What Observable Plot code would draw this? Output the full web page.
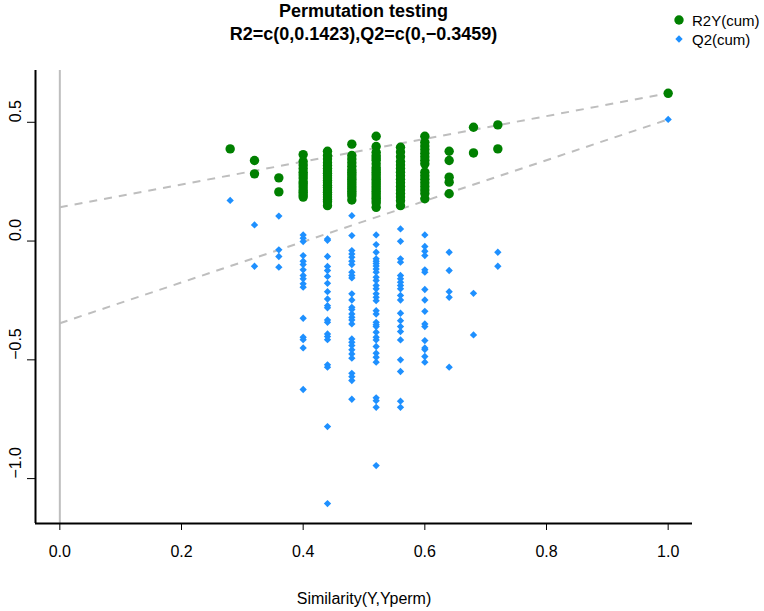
<!DOCTYPE html>
<html>
<head>
<meta charset="utf-8">
<script src="https://cdn.jsdelivr.net/npm/d3@7"></script>
<script src="https://cdn.jsdelivr.net/npm/@observablehq/plot@0.6"></script>
<style>
  body { margin: 0; background: #fff; }
  #wrap { position: relative; width: 764px; height: 611px; font-family: "Liberation Sans", Arial, Helvetica, sans-serif; color: #000; }
  #title { position: absolute; left: 0; top: 0; width: 727px; text-align: center; font-weight: bold; font-size: 18px; line-height: 22.5px; z-index: 2; }
  #legend { position: absolute; left: 0; top: 0; width: 764px; height: 60px; z-index: 2; pointer-events: none; }
  .lg { position: absolute; left: 692px; font-size: 15px; line-height: 15px; white-space: nowrap; }
  #plot { position: absolute; left: 0; top: 0; }
</style>
</head>
<body>
<div id="wrap">
  <div id="plot"></div>
  <div id="title">Permutation testing<br>R2=c(0,0.1423),Q2=c(0,−0.3459)</div>
  <div id="legend">
    <svg width="764" height="60" style="position:absolute;left:0;top:0">
      <circle cx="679" cy="20" r="4.7" fill="#008000"></circle>
      <path d="M679,35.3L682.7,39L679,42.7L675.3,39Z" fill="#1E90FF"></path>
    </svg>
    <div class="lg" style="top:13.3px">R2Y(cum)</div>
    <div class="lg" style="top:32.3px">Q2(cum)</div>
  </div>
</div>
<script>
// Similarity(Y,Yperm) levels
const simLevels = [0.28, 0.32, 0.36, 0.40, 0.44, 0.48, 0.52, 0.56, 0.60, 0.64, 0.68, 0.72, 1.0];

// R2Y(cum) values at each similarity level
const r2yByLevel = [
  [0.388],
  [0.339, 0.283],
  [0.266, 0.207],
  [0.364, 0.335, 0.32, 0.305, 0.29, 0.278, 0.265, 0.25, 0.24, 0.228, 0.215, 0.205, 0.195, 0.185],
  [0.378, 0.36, 0.345, 0.33, 0.318, 0.305, 0.295, 0.285, 0.275, 0.265, 0.255, 0.245, 0.235, 0.225, 0.215, 0.205, 0.195, 0.185, 0.175, 0.165, 0.149],
  [0.408, 0.36, 0.345, 0.33, 0.315, 0.3, 0.29, 0.28, 0.27, 0.26, 0.25, 0.24, 0.23, 0.22, 0.21, 0.2, 0.19, 0.173],
  [0.441, 0.398, 0.374, 0.36, 0.35, 0.34, 0.325, 0.31, 0.3, 0.29, 0.28, 0.27, 0.26, 0.25, 0.24, 0.23, 0.22, 0.21, 0.2, 0.19, 0.18, 0.17, 0.16, 0.142],
  [0.395, 0.375, 0.355, 0.335, 0.32, 0.305, 0.29, 0.275, 0.26, 0.245, 0.23, 0.215, 0.2, 0.185, 0.17, 0.149],
  [0.441, 0.416, 0.4, 0.385, 0.37, 0.355, 0.34, 0.325, 0.29, 0.275, 0.26, 0.245, 0.23, 0.215, 0.2, 0.178],
  [0.378, 0.339, 0.269, 0.248, 0.199],
  [0.479, 0.371],
  [0.489, 0.388],
  [0.622]
];

// Q2(cum) values at each similarity level
const q2ByLevel = [
  [0.171],
  [0.068, -0.106],
  [0.105, -0.037, -0.065, -0.110],
  [0.026, 0.012, -0.002, -0.061, -0.085, -0.099, -0.121, -0.145, -0.159, -0.180, -0.194, -0.325, -0.405, -0.415, -0.450, -0.625],
  [0.009, 0.003, -0.065, -0.107, -0.124, -0.149, -0.178, -0.213, -0.244, -0.272, -0.281, -0.332, -0.342, -0.391, -0.402, -0.415, -0.521, -0.531, -0.781, -1.105],
  [0.107, 0.023, -0.040, -0.054, -0.068, -0.085, -0.099, -0.131, -0.145, -0.155, -0.222, -0.248, -0.279, -0.288, -0.307, -0.321, -0.332, -0.349, -0.412, -0.426, -0.440, -0.458, -0.475, -0.493, -0.557, -0.571, -0.587, -0.666],
  [0.026, -0.015, -0.047, -0.075, -0.085, -0.095, -0.105, -0.118, -0.131, -0.152, -0.166, -0.187, -0.201, -0.222, -0.237, -0.251, -0.293, -0.307, -0.342, -0.352, -0.360, -0.384, -0.405, -0.416, -0.444, -0.472, -0.489, -0.510, -0.660, -0.672, -0.700, -0.945],
  [0.051, -0.001, -0.075, -0.089, -0.145, -0.159, -0.173, -0.187, -0.201, -0.229, -0.248, -0.304, -0.335, -0.360, -0.381, -0.416, -0.500, -0.549, -0.674, -0.700],
  [0.026, -0.023, -0.043, -0.061, -0.121, -0.131, -0.204, -0.248, -0.296, -0.349, -0.360, -0.419, -0.450, -0.457, -0.486, -0.510],
  [-0.047, -0.124, -0.213, -0.237, -0.531],
  [-0.220, -0.395],
  [-0.047, -0.106],
  [0.512]
];

// regression intercepts from the title
const r2Intercept = [0, 0.1423];
const q2Intercept = [0, -0.3459];

const xTicks = [0, 0.2, 0.4, 0.6, 0.8, 1.0];
const yTicks = [-1.0, -0.5, 0.0, 0.5];
const xDomain = [-0.04, 1.04];
const yDomain = [-1.189, 0.718];

const r2Data = simLevels.flatMap((s, i) => r2yByLevel[i].map(v => ({sim: s, val: v})));
const q2Data = simLevels.flatMap((s, i) => q2ByLevel[i].map(v => ({sim: s, val: v})));

const last = simLevels.length - 1;
const regLines = [
  {x1: r2Intercept[0], y1: r2Intercept[1], x2: simLevels[last], y2: r2yByLevel[last][0]},
  {x1: q2Intercept[0], y1: q2Intercept[1], x2: simLevels[last], y2: q2ByLevel[last][0]}
];

const fmt = d3.format(".1f");

const chart = Plot.plot({
  width: 764,
  height: 611,
  marginLeft: 35,
  marginRight: 72,
  marginTop: 70,
  marginBottom: 88,
  x: {domain: xDomain},
  y: {domain: yDomain},
  style: {fontFamily: "Liberation Sans, Arial, Helvetica, sans-serif", fontSize: "16px", background: "white", overflow: "visible"},
  marks: [
    Plot.ruleX([0], {stroke: "#bebebe", strokeWidth: 2}),
    Plot.link(regLines, {x1: "x1", y1: "y1", x2: "x2", y2: "y2", stroke: "#bebebe", strokeWidth: 2, strokeDasharray: "8,7"}),
    Plot.dot(r2Data, {x: "sim", y: "val", r: 4.7, fill: "#008000", stroke: null}),
    Plot.dot(q2Data, {x: "sim", y: "val", symbol: "diamond2", r: 3.3, fill: "#1E90FF", stroke: null}),
    Plot.ruleX([xDomain[0]], {stroke: "black", strokeWidth: 2}),
    Plot.ruleY([yDomain[0]], {stroke: "black", strokeWidth: 2}),
    Plot.axisX({ticks: xTicks, tickSize: 7, tickPadding: 15.6, tickFormat: fmt, label: null, fontSize: 16}),
    Plot.axisY({ticks: yTicks, tickSize: 8, tickFormat: () => "", label: null}),
    Plot.text(yTicks, {y: d => d, frameAnchor: "left", dx: -20, rotate: -90, text: d => fmt(d), fontSize: 16}),
    Plot.text(["Similarity(Y,Yperm)"], {frameAnchor: "bottom", lineAnchor: "middle", dy: 75, fontSize: 16})
  ]
});
document.getElementById("plot").appendChild(chart);
</script>
</body>
</html>
